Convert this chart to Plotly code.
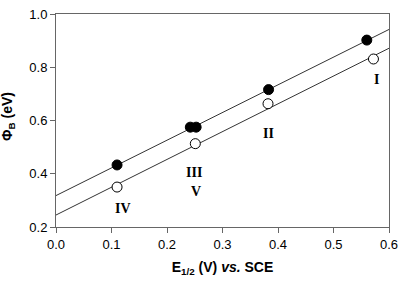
import plotly.graph_objects as go

# data
filled_x = [0.110, 0.242, 0.2525, 0.383, 0.560]
filled_y = [0.433, 0.575, 0.575, 0.716, 0.902]
open_x = [0.110, 0.251, 0.382, 0.572]
open_y = [0.350, 0.513, 0.663, 0.831]

fit_x = [0.0, 0.6]
upper_fit = (0.318, 1.040)   # intercept, slope
lower_fit = (0.245, 1.044)

labels = ["I", "II", "III", "V", "IV"]
label_x = [0.578, 0.382, 0.248, 0.253, 0.120]
label_y = [0.754, 0.551, 0.406, 0.333, 0.269]

x_ticks = [0.0, 0.1, 0.2, 0.3, 0.4, 0.5, 0.6]
y_ticks = [0.2, 0.4, 0.6, 0.8, 1.0]

fig = go.Figure()
for a, b in (upper_fit, lower_fit):
    fig.add_trace(go.Scatter(x=fit_x, y=[a + b * x for x in fit_x], mode="lines",
                             line=dict(color="#333", width=1), showlegend=False,
                             hoverinfo="skip"))
fig.add_trace(go.Scatter(x=filled_x, y=filled_y, mode="markers",
                         marker=dict(size=10, color="black", line=dict(color="black", width=1)),
                         showlegend=False))
fig.add_trace(go.Scatter(x=open_x, y=open_y, mode="markers",
                         marker=dict(size=10, color="white", line=dict(color="black", width=1)),
                         showlegend=False))

for t, x, y in zip(labels, label_x, label_y):
    fig.add_annotation(x=x, y=y, text="<b>%s</b>" % t, showarrow=False,
                       font=dict(family="Liberation Serif", size=14, color="black"))

# y-axis title as a rotated annotation (placed like the reference)
fig.add_annotation(xref="paper", yref="paper", x=-0.142, y=0.52, textangle=-90,
                   text="<b>Φ<sub>B</sub> (eV)</b>", showarrow=False,
                   xanchor="center", yanchor="middle",
                   font=dict(family="Liberation Sans", size=14, color="black"))

axis_common = dict(showgrid=False, zeroline=False, showline=True, mirror=True,
                   linecolor="#666", linewidth=1, ticks="outside", ticklen=5,
                   tickcolor="#666", tickfont=dict(family="Liberation Sans", size=13, color="black"))

fig.update_xaxes(range=[0, 0.6], tickvals=x_ticks, ticktext=["%.1f" % v for v in x_ticks],
                 title=dict(text="<b>E<sub>1/2</sub> (V) <i>vs.</i> SCE</b>",
                            font=dict(family="Liberation Sans", size=14, color="black"),
                            standoff=11),
                 **axis_common)
fig.update_yaxes(range=[0.2, 1.0], tickvals=y_ticks, ticktext=["%.1f" % v for v in y_ticks],
                 **axis_common)

fig.update_layout(width=405, height=282, margin=dict(l=56, r=10, t=7, b=55),
                  plot_bgcolor="white", paper_bgcolor="white")

fig.write_html("out.html")
